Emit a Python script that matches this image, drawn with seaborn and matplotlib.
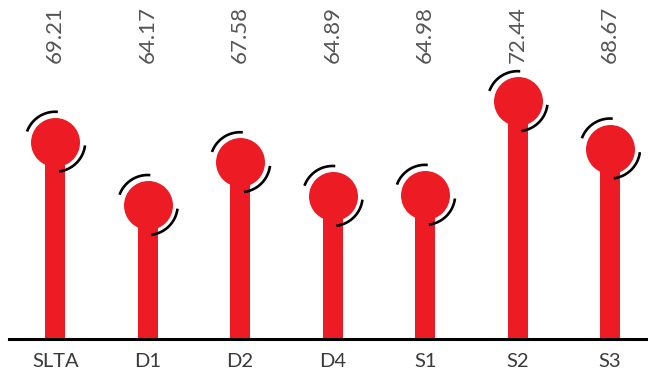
import numpy as np
import pandas as pd
import matplotlib
matplotlib.use("Agg")
import matplotlib.pyplot as plt
import matplotlib.transforms as mtransforms
import seaborn as sns
from matplotlib.path import Path
from matplotlib.markers import MarkerStyle

# Scores per group
categories = ["SLTA", "D1", "D2", "D4", "S1", "S2", "S3"]
scores = [69.21, 64.17, 67.58, 64.89, 64.98, 72.44, 68.67]
value_labels = ["69.21", "64.17", "67.58", "64.89", "64.98", "72.44", "68.67"]

df = pd.DataFrame({"group": categories, "score": scores})

sns.set_theme(style="white")
plt.rcParams["font.family"] = ["Lato", "DejaVu Sans"]

RED = "#ED1C24"
DPI = 100
fig = plt.figure(figsize=(6.48, 3.74), dpi=DPI)
ax = fig.add_axes([9 / 648, 35 / 374, 639 / 648, 339 / 374])

# Stems
sns.barplot(data=df, x="group", y="score", color=RED, width=0.216,
            saturation=1, linewidth=0, ax=ax, zorder=2)

# Lollipop heads
head_d_pt = 49 * 72 / DPI
sns.scatterplot(data=df, x="group", y="score", s=head_d_pt ** 2, color=RED,
                linewidth=0, ax=ax, zorder=3, legend=False)

# Two decorative arcs around each head, built as one marker path
def arc_pts(t1, t2, n=60):
    t = np.radians(np.linspace(t1, t2, n))
    return np.column_stack([np.cos(t), np.sin(t)])

a1 = arc_pts(85, 160)
a2 = arc_pts(-83, -7)
verts = np.vstack([a1, a2])
codes = ([Path.MOVETO] + [Path.LINETO] * (len(a1) - 1)
         + [Path.MOVETO] + [Path.LINETO] * (len(a2) - 1))
arc_path = Path(verts, codes)
norm = np.max(np.abs(verts))
ring_r_pt = 30 * 72 / DPI
ring_size = 2 * ring_r_pt * norm
ax.scatter(np.arange(len(categories)), scores, marker=MarkerStyle(arc_path),
           s=ring_size ** 2, facecolors="none", edgecolors="black",
           linewidths=1.9, zorder=4)

# Value labels along the top
trans = mtransforms.blended_transform_factory(ax.transData, ax.transAxes)
for i, lab in enumerate(value_labels):
    ax.text(i, (339 - 63) / 339, lab, transform=trans, rotation=90,
            ha="center", va="bottom", fontsize=16, color="#555555")

ax.set_xlim(-0.5, 6.41)
ax.set_ylim(53.5, 80.5)
ax.set_yticks([])
ax.set_xlabel("")
ax.set_ylabel("")
for s in ["left", "top", "right"]:
    ax.spines[s].set_visible(False)
ax.spines["bottom"].set_color("black")
ax.spines["bottom"].set_linewidth(2.2)
ax.tick_params(axis="x", length=0, pad=10, labelsize=14.5, labelcolor="#3a3a3a")

fig.savefig("out.png", dpi=DPI)
